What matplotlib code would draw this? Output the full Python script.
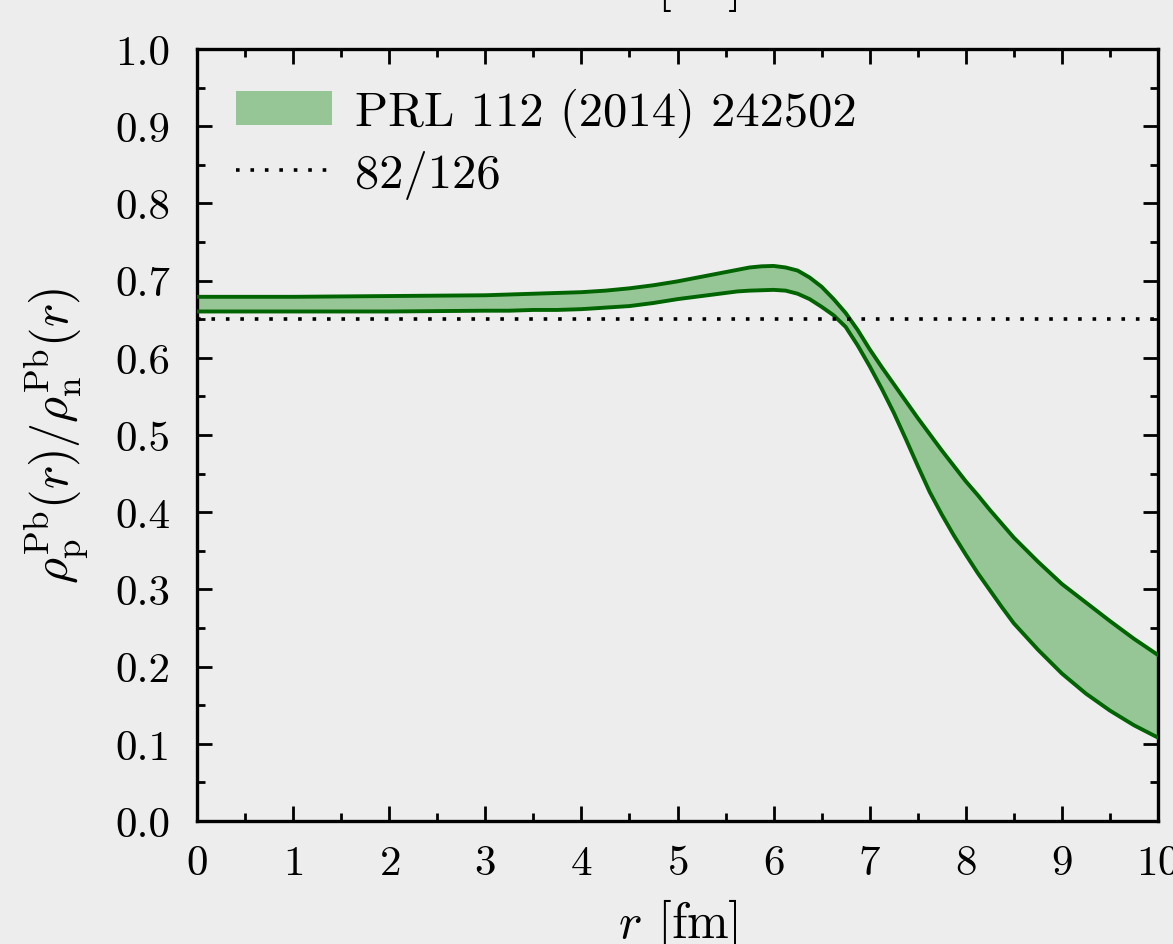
import numpy as np
import matplotlib
matplotlib.use("Agg")
import matplotlib.pyplot as plt
from matplotlib.ticker import MultipleLocator, FormatStrFormatter

plt.rcParams.update({
    "font.family": "serif",
    "font.serif": ["cmr10"],
    "mathtext.fontset": "cm",
    "axes.formatter.use_mathtext": True,
    "axes.unicode_minus": False,
})

# Proton-to-neutron density ratio band for 208Pb: radius grid and band edges
r_fm = [0.0, 1.0, 2.0, 3.0, 3.25, 3.5, 3.75, 4.0, 4.25, 4.5, 4.75, 5.0, 5.25,
        5.5, 5.625, 5.75, 5.875, 6.0, 6.125, 6.25, 6.375, 6.5, 6.625, 6.75,
        6.875, 7.0, 7.125, 7.25, 7.375, 7.5, 7.625, 7.75, 7.875, 8.0, 8.125,
        8.25, 8.375, 8.5, 8.75, 9.0, 9.25, 9.5, 9.75, 10.0]
ratio_upper = [0.679, 0.679, 0.680, 0.681, 0.682, 0.683, 0.684, 0.685, 0.687,
               0.690, 0.694, 0.699, 0.705, 0.711, 0.714, 0.717, 0.7185, 0.719,
               0.717, 0.713, 0.704, 0.692, 0.676, 0.658, 0.636, 0.611, 0.588,
               0.566, 0.544, 0.522, 0.501, 0.480, 0.460, 0.440, 0.422, 0.403,
               0.385, 0.367, 0.336, 0.307, 0.283, 0.259, 0.236, 0.215]
ratio_lower = [0.660, 0.660, 0.660, 0.661, 0.661, 0.662, 0.662, 0.663, 0.665,
               0.667, 0.671, 0.676, 0.680, 0.684, 0.686, 0.687, 0.6875, 0.688,
               0.687, 0.683, 0.676, 0.666, 0.655, 0.640, 0.616, 0.589, 0.560,
               0.529, 0.495, 0.460, 0.426, 0.397, 0.370, 0.345, 0.321, 0.299,
               0.277, 0.256, 0.222, 0.191, 0.165, 0.143, 0.124, 0.108]

Z_PB = 82
N_PB = 126

band_label = "PRL 112 (2014) 242502"
ref_label = "82/126"
xlabel = r"$r$ [fm]"
ylabel = r"$\rho_{\rm p}^{\rm Pb}(r)/\rho_{\rm n}^{\rm Pb}(r)$"

bg = "#ededed"
fill_col = "#96c696"
line_col = "#006400"

fig = plt.figure(figsize=(11.73, 9.45), dpi=100, facecolor=bg)
ax = fig.add_axes([197 / 1173, 1 - 822 / 945, (1158 - 197) / 1173, (822 - 50) / 945])
ax.set_facecolor(bg)

ax.fill_between(r_fm, ratio_lower, ratio_upper, color=fill_col, lw=0,
                label=band_label, zorder=2)
ax.plot(r_fm, ratio_upper, color=line_col, lw=2.8, zorder=3,
        solid_joinstyle="round")
ax.plot(r_fm, ratio_lower, color=line_col, lw=2.8, zorder=3,
        solid_joinstyle="round")
ax.axhline(Z_PB / N_PB, color="black", lw=2.6, linestyle=(0, (1, 3.0)),
           dash_capstyle="butt", label=ref_label, zorder=4)

ax.set_xlim(0, 10)
ax.set_ylim(0, 1)
ax.xaxis.set_major_locator(MultipleLocator(1))
ax.xaxis.set_minor_locator(MultipleLocator(0.5))
ax.yaxis.set_major_locator(MultipleLocator(0.1))
ax.yaxis.set_minor_locator(MultipleLocator(0.05))
ax.yaxis.set_major_formatter(FormatStrFormatter("%.1f"))

ax.tick_params(which="both", direction="in", top=True, right=True,
               labelsize=31, width=2.0)
ax.tick_params(which="major", length=10.8)
ax.tick_params(which="minor", length=5.8)
ax.tick_params(axis="x", which="major", pad=17)
ax.tick_params(axis="y", which="major", pad=19)
for s in ax.spines.values():
    s.set_linewidth(2.4)

ax.set_xlabel(xlabel, fontsize=36, labelpad=10)
ax.set_ylabel(ylabel, fontsize=36)
ax.yaxis.set_label_coords(-0.110, 0.5)

ax.legend(loc="upper left", bbox_to_anchor=(0.0, 1.0), frameon=False,
          fontsize=35, handlelength=1.98, handleheight=0.7,
          handletextpad=0.47, labelspacing=0.27, borderaxespad=0.6,
          borderpad=0.2)

# axis label of the panel above, mostly outside the canvas
fig.text(677.5 / 1173, 1 + 1 / 945, xlabel, fontsize=36, ha="center",
         va="baseline")

fig.savefig("out.png", dpi=100, facecolor=bg)
